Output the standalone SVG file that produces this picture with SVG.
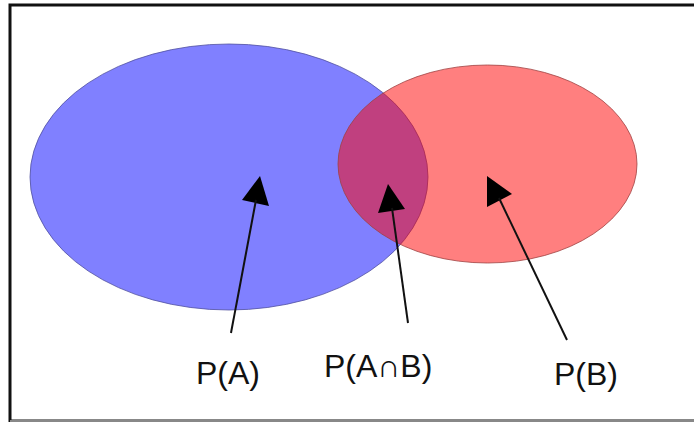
<svg xmlns="http://www.w3.org/2000/svg" width="694" height="422" viewBox="0 0 694 422">
<defs>
<style>
.lbl{font-family:"Liberation Sans",Arial,sans-serif;font-size:32px;fill:#111;}
.conn line{stroke:#111;stroke-width:2;}
.head{fill:#000;}
</style>
</defs>
<rect x="0" y="0" width="694" height="422" fill="#fff"/>
<rect x="10" y="5" width="700" height="416" fill="#fff" stroke="#111" stroke-width="3"/>
<line x1="10" y1="421" x2="694" y2="421" stroke="#888" stroke-width="2"/>
<g id="setA">
<ellipse cx="229" cy="177" rx="199" ry="133" fill="#8080ff" stroke="#5050a0" stroke-width="0.8"/>
</g>
<g id="setB">
<ellipse cx="487.5" cy="164" rx="149.5" ry="99" fill="#ff0000" fill-opacity="0.5" stroke="#a04040" stroke-width="0.8"/>
</g>
<g class="conn" id="connectors">
<polygon class="head" points="260,176 242,200 269,206"/>
<line x1="231" y1="333" x2="256" y2="200"/>
<polygon class="head" points="388,184 378,213 405,209"/>
<line x1="408" y1="323" x2="392" y2="208"/>
<polygon class="head" points="487,176 487,207 512,194"/>
<line x1="567" y1="340" x2="499" y2="198"/>
</g>
<g id="labelA"><text class="lbl" x="196" y="384">P(A)</text></g>
<g id="labelAB"><text class="lbl" x="324" y="377">P(A∩B)</text></g>
<g id="labelB"><text class="lbl" x="554" y="385">P(B)</text></g>
</svg>
